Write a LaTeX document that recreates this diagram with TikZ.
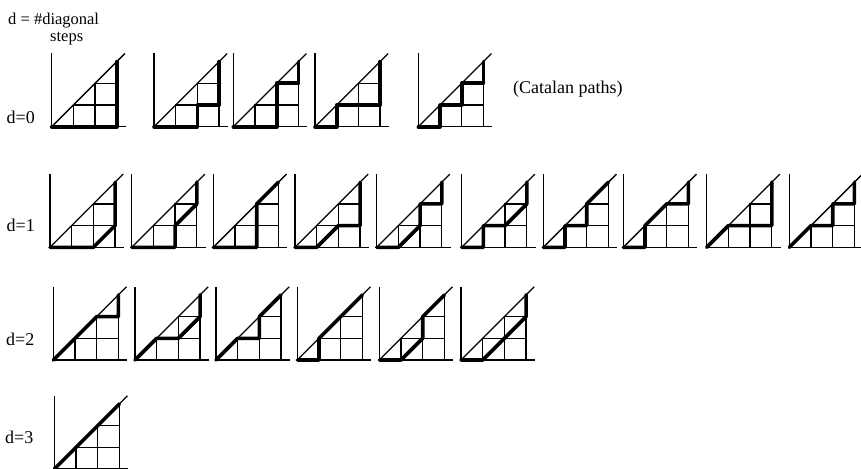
\documentclass[tikz,border=0pt]{standalone}
\usepackage{fontspec}
\setmainfont{Liberation Serif}
\tikzset{
 gridline/.style={line width=1.3pt, line cap=rect},
 pathline/.style={line width=3.6pt, line cap=round, line join=round},
 lbl/.style={inner sep=0pt, anchor=base west, font=\fontsize{18}{20}\selectfont},
 hdr/.style={inner sep=0pt, anchor=base west, font=\fontsize{16.5}{18}\selectfont},
}
\newcommand\schdiag[3]{%
 \begin{scope}[shift={(#1,#2)},x=21.7pt,y=21.7pt]
 \draw[gridline] (0,3.35) -- (0,0) -- (3.38,0);
 \draw[gridline] (0,0) -- (3.35,3.35);
 \draw[gridline] (1,0)--(1,1) (2,0)--(2,2) (3,0)--(3,3) (1,1)--(3,1) (2,2)--(3,2);
 \draw[pathline] #3;
 \end{scope}}
\begin{document}
\begin{tikzpicture}[x=1pt,y=-1pt]
\useasboundingbox (0,0) rectangle (861,468);
% labels
\node[hdr] (hdr1) at (8,25) {d = \#diagonal};
\node[hdr] (hdr2) at (50,42) {steps};
\node[lbl] (cat) at (513,94) {(Catalan paths)};
\node[lbl] (d0) at (6.5,124) {d=0};
\node[lbl] (d1) at (6.5,231.5) {d=1};
\node[lbl] (d2) at (6,345) {d=2};
\node[lbl] (d3) at (5,443) {d=3};
% d=0
\schdiag{51.7}{126.7}{(0,0)--(3,0)--(3,3)}
\schdiag{154}{126.7}{(0,0)--(2,0)--(2,1)--(3,1)--(3,3)}
\schdiag{233.3}{126.7}{(0,0)--(2,0)--(2,2)--(3,2)--(3,3)}
\schdiag{315}{126.7}{(0,0)--(1,0)--(1,1)--(3,1)--(3,3)}
\schdiag{418.3}{126.7}{(0,0)--(1,0)--(1,1)--(2,1)--(2,2)--(3,2)--(3,3)}
% d=1
\schdiag{50}{247.3}{(0,0)--(2,0)--(3,1)--(3,3)}
\schdiag{131.7}{247.3}{(0,0)--(2,0)--(2,1)--(3,2)--(3,3)}
\schdiag{213.3}{247.3}{(0,0)--(2,0)--(2,2)--(3,3)}
\schdiag{295}{247.3}{(0,0)--(1,0)--(2,1)--(3,1)--(3,3)}
\schdiag{376.7}{247.3}{(0,0)--(1,0)--(2,1)--(2,2)--(3,2)--(3,3)}
\schdiag{461.7}{247.3}{(0,0)--(1,0)--(1,1)--(2,1)--(3,2)--(3,3)}
\schdiag{543.3}{247.3}{(0,0)--(1,0)--(1,1)--(2,1)--(2,2)--(3,3)}
\schdiag{623.3}{247.3}{(0,0)--(1,0)--(1,1)--(2,2)--(3,2)--(3,3)}
\schdiag{706.7}{247.3}{(0,0)--(1,1)--(3,1)--(3,3)}
\schdiag{789.3}{247.3}{(0,0)--(1,1)--(2,1)--(2,2)--(3,2)--(3,3)}
% d=2
\schdiag{53.3}{360}{(0,0)--(2,2)--(3,2)--(3,3)}
\schdiag{135}{360}{(0,0)--(1,1)--(2,1)--(3,2)--(3,3)}
\schdiag{216}{360}{(0,0)--(1,1)--(2,1)--(2,2)--(3,3)}
\schdiag{297.3}{360}{(0,0)--(1,0)--(1,1)--(3,3)}
\schdiag{379.3}{360}{(0,0)--(1,0)--(2,1)--(2,2)--(3,3)}
\schdiag{461}{360}{(0,0)--(1,0)--(3,2)--(3,3)}
% d=3
\schdiag{54.3}{469}{(0,0)--(3,3)}
\end{tikzpicture}
\end{document}
